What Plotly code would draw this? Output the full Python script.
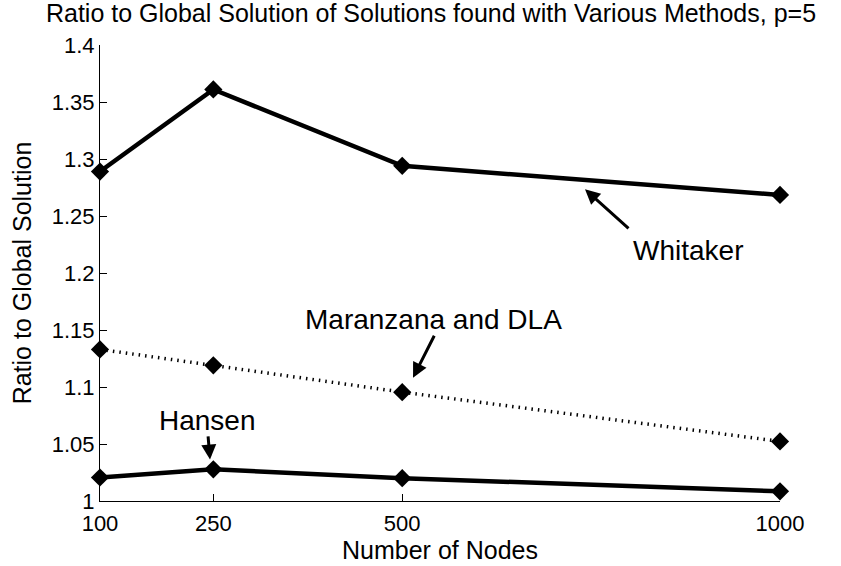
import plotly.graph_objects as go

nodes = [100, 250, 500, 1000]
whitaker = [1.289, 1.361, 1.294, 1.2685]
maranzana_dla = [1.133, 1.119, 1.0955, 1.0523]
hansen = [1.0206, 1.0278, 1.020, 1.0085]

y_ticks = [1, 1.05, 1.1, 1.15, 1.2, 1.25, 1.3, 1.35, 1.4]
y_tick_labels = ["1", "1.05", "1.1", "1.15", "1.2", "1.25", "1.3", "1.35", "1.4"]
x_tick_labels = ["100", "250", "500", "1000"]

FONT = "Liberation Sans, Arial, Helvetica, sans-serif"

fig = go.Figure()
fig.add_trace(go.Scatter(x=nodes, y=whitaker, mode="lines+markers", name="Whitaker",
                         line=dict(color="black", width=4.5),
                         marker=dict(symbol="diamond", size=14, color="black"),
                         cliponaxis=False))
fig.add_trace(go.Scatter(x=nodes, y=maranzana_dla, mode="lines+markers", name="Maranzana and DLA",
                         line=dict(color="black", width=3.5, dash="1.5px,5px"),
                         marker=dict(symbol="diamond", size=14, color="black"),
                         cliponaxis=False))
fig.add_trace(go.Scatter(x=nodes, y=hansen, mode="lines+markers", name="Hansen",
                         line=dict(color="black", width=4.5),
                         marker=dict(symbol="diamond", size=14, color="black"),
                         cliponaxis=False))

ann_font = dict(family=FONT, size=28, color="black")
annotations = [
    dict(x=878.6, y=1.2198, text="Whitaker", showarrow=False, font=ann_font,
         xanchor="center", yanchor="middle"),
    dict(x=542, y=1.1595, text="Maranzana and DLA", showarrow=False, font=ann_font,
         xanchor="center", yanchor="middle"),
    dict(x=242.3, y=1.0705, text="Hansen", showarrow=False, font=ann_font,
         xanchor="center", yanchor="middle"),
    dict(x=741.9, y=1.2735, ax=801.5, ay=1.238, axref="x", ayref="y", text="",
         showarrow=True, arrowhead=2, arrowsize=1, arrowwidth=3, arrowcolor="black"),
    dict(x=514.3, y=1.1082, ax=543.4, ay=1.1463, axref="x", ayref="y", text="",
         showarrow=True, arrowhead=2, arrowsize=1, arrowwidth=3, arrowcolor="black"),
    dict(x=245.6, y=1.0364, ax=242.9, ay=1.058, axref="x", ayref="y", text="",
         showarrow=True, arrowhead=2, arrowsize=1, arrowwidth=3, arrowcolor="black"),
]

fig.update_layout(
    width=841, height=566,
    margin=dict(l=100, r=61, t=45, b=59),
    paper_bgcolor="white", plot_bgcolor="white",
    showlegend=False,
    font=dict(family=FONT, color="black"),
    title=dict(text="Ratio to Global Solution of Solutions found with Various Methods, p=5",
               x=431 / 841, xref="container", xanchor="center",
               y=1 - 13 / 566, yref="container", yanchor="middle",
               font=dict(family=FONT, size=25, color="black")),
    xaxis=dict(range=[100, 1000], tickvals=nodes, ticktext=x_tick_labels,
               showgrid=False, zeroline=False, showline=True, linecolor="black", linewidth=1,
               ticks="inside", ticklen=7, tickcolor="black", ticklabelstandoff=3,
               tickfont=dict(family=FONT, size=22, color="black"),
               title=dict(text="Number of Nodes", font=dict(family=FONT, size=25, color="black"),
                          standoff=0)),
    yaxis=dict(range=[1, 1.4], tickvals=y_ticks, ticktext=y_tick_labels,
               showgrid=False, zeroline=False, showline=True, linecolor="black", linewidth=1,
               ticks="inside", ticklen=7, tickcolor="black",
               tickfont=dict(family=FONT, size=22, color="black"),
               title=dict(text="Ratio to Global Solution", font=dict(family=FONT, size=25, color="black"),
                          standoff=13)),
    annotations=annotations,
)

fig.write_html("out.html", config={"displayModeBar": False},
               post_script="document.body.style.margin='0';document.body.style.padding='0';")
